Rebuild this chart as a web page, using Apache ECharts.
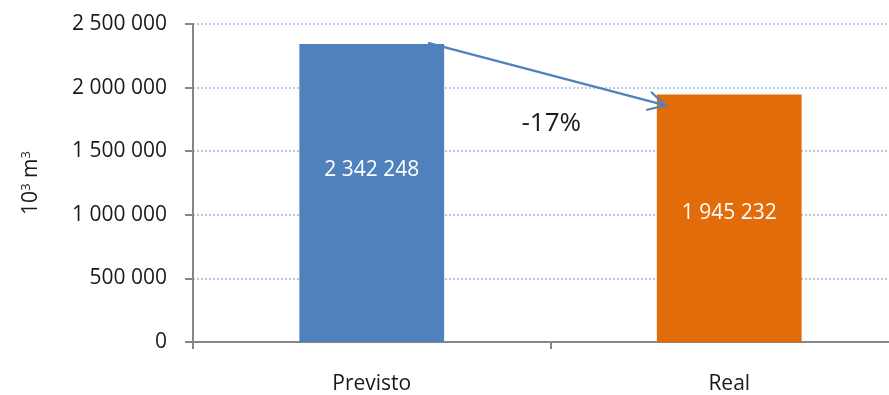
<!DOCTYPE html>
<html>
<head>
<meta charset="utf-8">
<script src="https://cdn.jsdelivr.net/npm/echarts@6/dist/echarts.min.js"></script>
<style>
  html, body { margin: 0; padding: 0; background: #fff; overflow: hidden; width: 889px; height: 395px; }
  /* the drawing surface is a little wider than the page so the plot runs off the right edge */
  #chart { width: 908px; height: 395px; }
</style>
</head>
<body>
<div id="chart"></div>
<script>
// Planned vs. actual volume (thousand cubic metres)
const categories = ['Previsto', 'Real'];
const volumes = [2342248, 1945232];
const barColors = ['#4F81BD', '#E36C0A'];
const yMax = 2500000;
const yStep = 500000;
// value level where the change arrow meets the second bar
const arrowTipLevel = 1860000;

const FONT = '"Open Sans", sans-serif';

function groupThousands(v) {
  return String(v).replace(/\B(?=(\d{3})+(?!\d))/g, ' ');
}

const change = Math.round((volumes[1] / volumes[0] - 1) * 100);
const changeText = (change > 0 ? '+' : '') + change + '%';

// vertical label shift inside each bar (px)
const labelShift = [-23, -5];

const chart = echarts.init(document.getElementById('chart'), null, { renderer: 'canvas' });

chart.setOption({
  animation: false,
  grid: { left: 193, right: 0, top: 24, bottom: 53, containLabel: false },
  xAxis: {
    type: 'category',
    data: categories,
    axisLine: { lineStyle: { color: '#868686', width: 2 } },
    axisTick: { show: true, length: 7, lineStyle: { color: '#868686', width: 2 } },
    axisLabel: { color: '#1a1a1a', fontSize: 21, fontFamily: FONT, margin: 32 }
  },
  yAxis: {
    type: 'value',
    min: 0,
    max: yMax,
    interval: yStep,
    name: '10{sup|3} m{sup|3}',
    nameLocation: 'middle',
    nameRotate: 90,
    nameGap: 150,
    nameTextStyle: {
      color: '#1a1a1a', fontSize: 21, fontFamily: FONT,
      rich: { sup: { fontSize: 13, verticalAlign: 'top', padding: [0, 0, 10, 0], fontFamily: FONT, color: '#1a1a1a' } }
    },
    axisLine: { show: true, lineStyle: { color: '#868686', width: 2 } },
    axisTick: { show: true, length: 8, lineStyle: { color: '#868686', width: 2 } },
    axisLabel: {
      color: '#1a1a1a', fontSize: 21, fontFamily: FONT, margin: 26,
      formatter: v => groupThousands(v)
    },
    splitLine: { lineStyle: { color: '#9DB8E3', width: 1.5, type: [2, 2] } }
  },
  series: [
    {
      type: 'bar',
      barWidth: '40.5%',
      data: volumes.map((v, i) => ({
        value: v,
        itemStyle: { color: barColors[i] },
        label: { offset: [0, labelShift[i]] }
      })),
      label: {
        show: true,
        position: 'inside',
        color: '#fff',
        fontSize: 21,
        fontFamily: FONT,
        formatter: p => groupThousands(p.value)
      }
    },
    {
      // change arrow from the top of the first bar to the second bar
      type: 'custom',
      coordinateSystem: 'cartesian2d',
      z: 5,
      silent: true,
      data: [[0, volumes[0]]],
      renderItem: function (params, api) {
        const band = api.size([1, 0])[0];
        const p0 = api.coord([0, volumes[0]]);
        const p1 = api.coord([1, arrowTipLevel]);
        const x0 = p0[0] + band * 0.16, y0 = p0[1] - 1;
        const x1 = p1[0] - band * 0.178, y1 = p1[1];
        const ang = Math.atan2(y0 - y1, x0 - x1);
        const arm = 19, spread = 28 * Math.PI / 180;
        const a1 = [x1 + arm * Math.cos(ang + spread), y1 + arm * Math.sin(ang + spread)];
        const a2 = [x1 + arm * Math.cos(ang - spread), y1 + arm * Math.sin(ang - spread)];
        const stroke = { stroke: '#4F81BD', lineWidth: 2.2, fill: null, lineCap: 'round' };
        return {
          type: 'group',
          children: [
            { type: 'line', shape: { x1: x0, y1: y0, x2: x1, y2: y1 }, style: stroke },
            { type: 'polyline', shape: { points: [a1, [x1, y1], a2] }, style: stroke },
            {
              type: 'text',
              style: {
                x: (x0 + x1) / 2 + 4,
                y: (y0 + y1) / 2 + 49,
                text: changeText,
                fill: '#1a1a1a',
                font: '26px ' + FONT,
                align: 'center',
                verticalAlign: 'middle'
              }
            }
          ]
        };
      }
    }
  ]
});
</script>
</body>
</html>
